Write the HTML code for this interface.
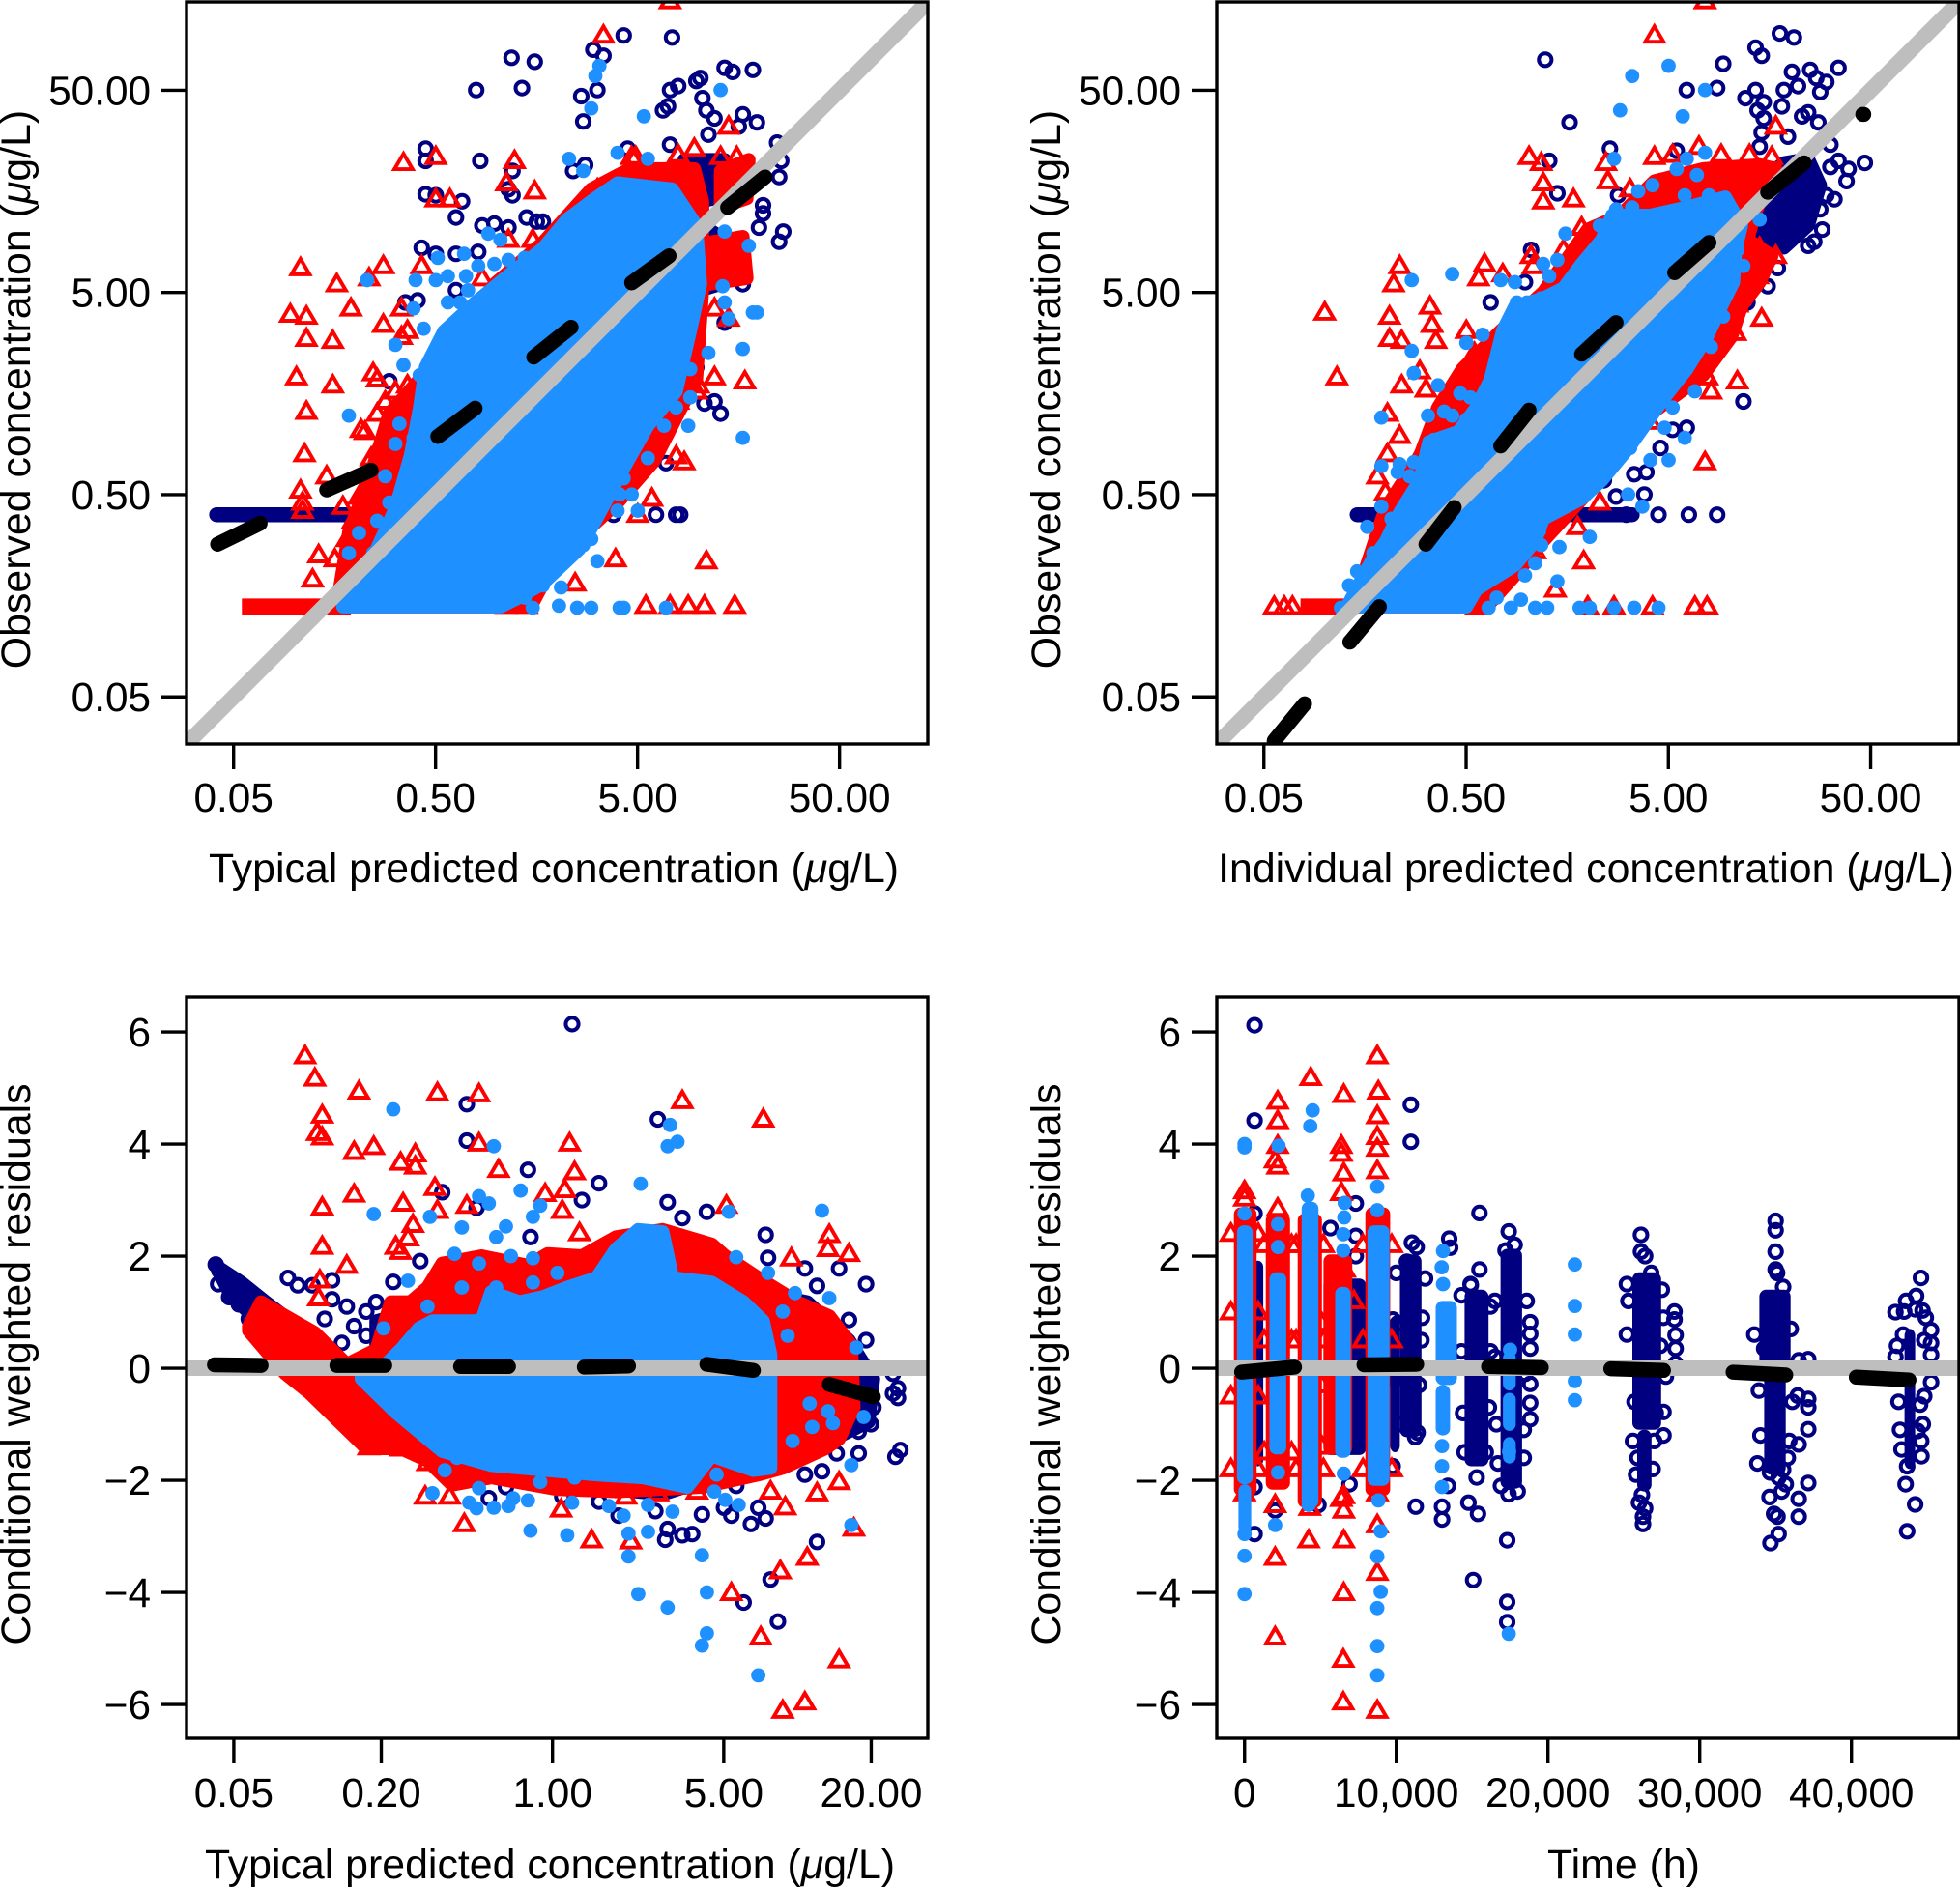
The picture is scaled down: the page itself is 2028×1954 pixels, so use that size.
<!DOCTYPE html>
<html lang="en">
<head>
<meta charset="utf-8">
<title>Goodness-of-fit diagnostic plots</title>
<style>
  html, body { margin: 0; padding: 0; background: #fff; }
  svg { display: block; }
  text { font-family: "Liberation Sans", "DejaVu Sans", sans-serif; font-size: 42.3px; fill: #000; }
  text.axis-title { font-size: 42.85px; }
</style>
</head>
<body>
<svg id="chart" xmlns="http://www.w3.org/2000/svg" width="2028" height="1954" viewBox="0 0 2028 1954">
  <rect x="0" y="0" width="2028" height="1954" fill="#fff"></rect>
</svg>
<script>
/* Shared tick values and labels */
const concTickValues = [0.05, 0.5, 5, 50];
const concTickLabels = ['0.05', '0.50', '5.00', '50.00'];
const p3XTickValues = [0.05, 0.2, 1, 5, 20];
const p3XTickLabels = ['0.05', '0.20', '1.00', '5.00', '20.00'];
const cwresTickValues = [-6, -4, -2, 0, 2, 4, 6];
const cwresTickLabels = ['\u22126', '\u22124', '\u22122', '0', '2', '4', '6'];
const timeTickValues = [0, 10, 20, 30, 40];
const timeTickLabels = ['0', '10,000', '20,000', '30,000', '40,000'];

/* Panel 1: log10 typical prediction vs log10 observed */
const p1NavyX = [-.10,.075,.19,.127,.48,.53,.63,.87,.42,.50,.43,.825,.85,.86,.90,.99,1.01,1.02,1.04,1.08,1.05,1.13,1.17,1.27,1.22,1.29,1.2,1.39,1.41,1.40,1.42,1.40,1.32,1.30,1.32,1.22,1.13,1.08,1.11,1.03,.99,.91,.89,.79,.84,.74,.82,.58,.52,.50,.50,-.35,-.35,-.35,-.30,-.17,-.20,-.08,-.07,-.01,.06,.15,.20,.23,-.37,-.30,-.20,-.09,-.20,-.45,-.39,-.53,.08,.08,.06,.44,.38,.65,.86];
const p1NavyY = [1.70,1.86,1.84,1.71,1.90,1.87,1.97,1.96,1.67,1.70,1.545,1.60,1.62,1.70,1.72,1.745,1.76,1.66,1.60,1.56,1.48,1.81,1.79,1.80,1.58,1.54,1.52,1.44,1.35,1.27,1.0,.95,1.13,1.02,1.09,.74,.55,.16,.10,.15,.33,-.40,-.40,-.40,-.145,-.09,-.02,-.40,-.30,-.31,-.40,1.41,1.35,1.185,1.18,1.15,1.07,1.35,1.03,1.04,1.02,1.07,1.05,1.05,.92,.89,.89,.90,.71,.65,.66,.26,1.18,1.30,1.21,1.33,1.30,1.41,1.43];
const p1NavyCloudX = [.93,1.13,1.145,1.02,1.02,1.11,1.11,1.01];
const p1NavyCloudY = [1.355,1.355,1.18,1.15,1.03,.975,.74,.71];
const p1NavyBandX = [-1.385, -.50];
const p1NavyBandY = [-.40, -.40];
const p1RedX = [.53,.86,-.46,-.30,.09,.05,-.30,-.23,.19,-.97,-.79,-.56,-.63,-.37,-1.02,-.94,-.72,-.94,-.81,-.56,-.47,-.99,-.81,-.94,-.95,-.84,-.97,-.96,-.96,-.88,-.80,-.91,-.61,-.67,-.62,-.76,1.15,.98,1.23,1.08,1.15,.89,.93,.77,.70,.59,1.04,.39,.05,.15,.74,.86,.95,1.03,1.18,1.00,.06,.18,.50,.67,-.65,-.59,-.55,-.50,-.44,-.62,-.68,-.71,-.74,-.65,-.59,-.47,-.44,-.47,-.59,-.23,-.01,-.07,.14,.29,.66,.69,.90,1.11,1.19,1.05,1.11,1.16,1.08,.99,.90];
const p1RedY = [1.97,2.14,1.34,1.37,1.35,1.24,1.16,1.16,1.20,.82,.74,.83,.77,.83,.59,.58,.62,.47,.46,.54,.62,.28,.24,.11,-.10,-.21,-.28,-.34,-.38,-.60,-.62,-.72,.30,.02,-.12,-.36,1.52,1.41,.26,.28,.57,-.11,-.14,-.32,-.40,-.62,-.63,-.74,-.85,-.85,-.85,-.85,-.85,-.85,-.85,.24,.96,.96,1.21,1.37,.01,.10,.16,.21,.24,-.28,-.31,-.43,-.52,-.40,-.08,.10,.51,.48,.27,.51,.62,.77,.83,.86,1.30,1.37,1.38,1.37,1.37,.86,.80,.89,.62,.21,.16];
const p1RedCloudX = [-.79,-.73,-.62,-.53,-.38,-.23,-.01,.23,.47,.66,.98,1.02,1.02,.99,.90,.78,.60,.44,.29,.17];
const p1RedCloudY = [-.855,-.487,-.195,.10,.27,.42,.74,.945,1.21,1.31,1.31,1.15,.71,.27,.10,-.136,-.34,-.487,-.63,-.855];
const p1RedPatchAX = [1.05,1.22,1.24,1.05];
const p1RedPatchAY = [.945,.975,.77,.74];
const p1RedPatchBX = [1.11,1.25,1.24,1.11];
const p1RedPatchBY = [1.30,1.355,1.165,1.12];
const p1RedBandX = [-1.26, -.72];
const p1RedBandY = [-.855, -.855];
const p1BlueX = [.49,.51,.47,.73,1.11,.36,.43,.60,.75,-.64,-.40,-.29,-.30,-.24,-.16,-.15,-.04,.02,-.09,-.01,.06,.14,-.14,-.24,-.18,-.41,-.50,-.36,-.26,-.15,-.46,-.38,-.30,-.23,-.29,-.09,-.01,-.73,-.48,-.41,-.50,-.35,-.26,-.18,-.15,-.32,-.07,-.55,-.44,-.53,-.59,-.68,-.73,-.61,1.27,1.29,1.22,1.22,1.13,1.12,1.15,1.25,1.13,.98,1.05,.96,.96,.95,.89,.83,.75,.70,.60,.67,.61,.50,.63,.58,.69,.60,.47,.43,.23,.26,.22,.12,.23,.32,.14,.31,.40,.47,.61,.63,.84,.18];
const p1BlueY = [1.77,1.82,1.61,1.57,1.70,1.36,1.30,1.39,1.36,.76,.76,.87,.76,.78,.89,.78,.99,.96,.83,.84,.86,.87,.71,.65,.65,.62,.44,.52,.46,.51,.34,.29,.39,.36,.30,.45,.42,.09,.05,-.02,-.05,.14,.16,.21,.10,.21,.27,-.21,-.25,-.34,-.43,-.49,-.59,-.59,.60,.60,.42,-.02,.65,.73,.57,.93,1.00,1.04,.40,.32,.18,.04,.13,.04,-.12,-.38,-.38,-.30,-.30,-.63,-.22,-.19,-.02,-.02,-.52,-.55,-.60,-.60,-.68,-.74,-.75,-.76,-.81,-.85,-.86,-.86,-.86,-.86,-.86,-.86];
const p1BlueCloudX = [-.76,-.62,-.50,-.425,-.38,-.35,-.26,-.10,.08,.23,.35,.47,.60,.87,.99,1.01,.96,.89,.75,.63,.49,.41,.23,.11,.02];
const p1BlueCloudY = [-.855,-.63,-.37,-.107,.127,.33,.507,.653,.80,.916,1.06,1.15,1.24,1.21,1.03,.74,.51,.21,.04,-.17,-.43,-.57,-.74,-.81,-.855];
const p1TrendX = [-1.38,-1.17,-.84,-.62,-.29,-.105,.185,.37,.67,.855,1.145,1.33];
const p1TrendY = [-.546,-.443,-.277,-.18,-.013,.127,.38,.527,.747,.88,1.12,1.27];

/* Panel 2: log10 individual prediction vs log10 observed */
const p2NavyX = [.09,.21,.79,.94,.97,1.13,1.16,1.25,1.32,1.31,1.40,1.43,1.48,1.54,1.45,1.34,1.27,1.13,1.08,1.17,1.14,1.26,1.17,1.36,1.39,1.44,1.16,1.29,1.15,1.50,1.54,1.67,1.59,1.58,1.50,1.48,1.52,1.45,1.46,1.39,1.42,1.38,1.24,1.19,1.09,1.07,.11,.41,.15,.74,.45,-.01,-.18,.02,.79,.72,.66,.59,.53,.58,.44,.38,.49,.65,.80,.94,.95];
const p2NavyY = [1.85,1.54,1.70,1.71,1.83,1.91,1.87,1.98,1.96,1.79,1.80,1.76,1.74,1.81,1.69,1.72,1.70,1.70,1.66,1.64,1.60,1.62,1.56,1.57,1.59,1.54,1.49,1.47,1.42,1.43,1.35,1.34,1.31,1.25,1.32,1.18,1.16,1.11,1.01,.93,.95,1.05,.82,.73,.65,.16,1.35,1.41,1.19,1.40,1.18,.75,.65,.91,.03,.02,-.07,-.19,-.20,-.30,-.31,-.23,-.40,-.40,-.40,-.40,.51];
const p2NavyCloudX = [1.08,1.27,1.39,1.45,1.39,1.27,1.15];
const p2NavyCloudY = [1.20,1.34,1.36,1.23,1.03,.92,.98];
const p2NavyBandX = [-.84, .52];
const p2NavyBandY = [-.40, -.40];
const p2RedX = [.88,.63,1.23,.01,.07,.39,.63,.72,.85,.96,1.10,1.21,.08,.08,.23,.40,.51,.27,.28,.02,.18,-.63,-.66,-.21,-.24,-.12,.03,.10,-1.0,-.68,-.48,-.47,-.45,-.68,-.62,-.30,-.94,-.62,-.53,-.50,-.26,-.69,-.63,-.69,-.74,-.70,-.51,.88,1.04,1.16,1.03,1.04,.89,.91,1.14,1.23,1.15,.61,.36,.25,.28,.04,.14,-1.25,-1.20,-1.16,.30,.43,.62,.83,.89,-.11,-.25];
const p2RedY = [2.14,1.97,1.52,1.37,1.34,1.34,1.37,1.38,1.42,1.38,1.38,1.37,1.24,1.15,1.16,1.25,1.21,1.02,.92,.88,.91,.83,.74,.84,.77,.79,.83,.73,.60,.58,.63,.54,.46,.47,.46,.51,.28,.24,.31,.22,.40,.10,-.01,-.10,-.21,-.29,-.07,-.14,.26,.57,.50,.64,.28,.21,.78,.88,.92,.06,-.34,-.46,-.63,-.58,-.77,-.855,-.855,-.855,-.855,-.855,-.855,-.855,-.855,-.62,-.855];
const p2RedCloudX = [-.53,-.44,-.32,-.13,.08,.30,.46,.63,.87,1.15,1.23,1.13,1.09,1.21,1.15,1.06,1.01,.87,.56,.32,.08,-.06,-.20,-.86,-.70];
const p2RedCloudY = [-.11,.13,.32,.51,.70,1.01,1.08,1.25,1.31,1.33,1.31,1.10,.96,.88,.75,.63,.48,.29,.06,-.27,-.53,-.70,-.855,-.855,-.37];
const p2RedBandX = [-1.12, -.84];
const p2RedBandY = [-.855, -.855];
const p2BlueX = [.52,.70,.88,.46,.77,.43,.79,.88,.74,.84,.62,.55,.78,.90,.19,.36,.44,.52,-.57,-.37,-.13,-.06,.08,.15,.11,-.05,.07,0,-.57,-.30,-.22,-.03,-.56,-.44,-.33,-.28,-.72,-.49,-.41,-.37,-.30,-.46,-.72,-.63,-.56,-.64,-.58,-.60,-.72,-.67,-.79,-.76,-.84,-.88,-.92,1.15,1.04,1.07,.97,.91,.83,.72,.55,.68,.78,.51,.61,.70,.50,.57,.31,.16,.06,.07,-.01,.04,.15,-.15,-.03,.26,.31,.43,.53,.65,.10,.04,-.08,-.19,-.13];
const p2BlueY = [1.77,1.82,1.70,1.60,1.57,1.36,1.36,1.39,1.31,1.28,1.23,1.20,1.18,1.18,.99,1.03,1.11,1.12,.76,.79,.76,.75,.84,.86,.78,.65,.67,.65,.41,.45,.49,.44,.30,.24,.20,.18,.08,.09,.11,.09,.07,-.03,-.16,-.15,-.14,-.19,-.21,-.36,-.36,-.42,-.46,-.59,-.68,-.75,-.86,1.06,.91,.83,.58,.43,.21,.13,.07,.03,-.02,-.07,-.13,-.13,-.30,-.36,-.51,-.56,-.48,-.55,-.70,-.64,-.73,-.81,-.82,-.86,-.86,-.86,-.86,-.86,-.86,-.86,-.86,-.86,-.68];
const p2BlueCloudX = [-.89,-.77,-.70,-.63,-.53,-.485,-.34,-.25,-.18,-.12,-.06,.08,.18,.27,.37,.42,.61,.79,.98,1.06,1.03,1.02,.96,.89,.79,.68,.51,.37,.27,.08,.04,-.06,-.25,-.30];
const p2BlueCloudY = [-.855,-.63,-.535,-.39,-.23,-.04,.01,.13,.27,.51,.63,.67,.72,.84,.96,1.08,1.08,1.12,1.17,1.03,.91,.75,.63,.48,.32,.18,-.06,-.23,-.32,-.42,-.53,-.65,-.77,-.855];
const p2TrendX = [-1.25,-1.10,-.876,-.73,-.50,-.36,-.13,.01,.27,.44,.73,.90,1.19,1.37,1.66,1.665];
const p2TrendY = [-1.518,-1.335,-1.03,-.855,-.546,-.364,-.06,.117,.394,.55,.797,.946,1.195,1.34,1.58,1.58];

/* Panel 3: log10 typical prediction vs conditional weighted residual */
const p3NavyX = [.08,-.35,-.35,.43,-.10,.19,.12,.47,.53,.63,.87,.88,1.17,1.28,1.08,-.54,-.65,-.90,-.45,-.31,-.09,1.28,1.21,1.03,1.39,1.41,1.39,1.41,1.31,1.30,1.25,1.16,1.25,1.42,1.40,1.10,1.03,.75,.61,.70,.73,.84,.87,.81,1.08,.89,.78,.92,.57,.53,.46,.47,.42,.27,.19,.04,-.19,-.26,-.44,-.28,-1.375,-1.36,-1.365,-1.32,-1.28,-1.24,-1.08,-1.04,-.98,-.90,-.84,-.81,-.76,-.93,-.76,-.72,-.65,-.86];
const p3NavyY = [6.14,4.71,4.06,4.44,3.54,3.30,3.0,2.96,2.68,2.79,2.38,1.97,1.78,1.50,1.47,1.91,1.54,1.57,3.14,2.86,2.34,.50,.86,1.78,-.10,-.36,-.45,-.53,-.70,-1.0,-1.13,-1.52,-1.52,-1.46,-1.58,-1.84,-1.90,-2.10,-2.61,-2.49,-2.63,-2.49,-2.68,-2.78,-3.10,-3.77,-4.18,-4.52,-2.96,-2.98,-3.06,-2.87,-2.55,-2.63,-2.38,-2.29,-2.12,-2.32,-1.86,-1.78,1.85,1.74,1.50,1.27,1.14,.88,1.61,1.48,1.48,1.23,1.10,.75,.58,.88,1.01,1.18,1.10,.45];
const p3NavyTailX = [-1.375,-1.27,-1.17,-.86,-1.11,-1.31];
const p3NavyTailY = [1.83,1.53,1.18,.15,.50,1.27];
const p3NavyCloudX = [.84,1.04,1.21,1.31,1.29,1.13,.94,.45,.06,-.43,-.72,-.72,-.13];
const p3NavyCloudY = [1.36,1.18,.50,-.19,-.96,-1.30,-1.56,-2.25,-2.08,-1.82,-.19,.84,1.53];
const p3RedX = [-1.01,-.97,-.79,-.47,-.30,.53,.86,-.94,-.96,-.94,-.81,-.73,-.62,-.56,-.56,-.30,-.22,.07,.09,-.81,-.94,-.61,-.48,.05,-.03,.04,.71,-.94,-.84,-.57,-.59,-.64,-.62,-.47,-.35,.11,1.13,1.125,1.21,.975,-.95,-.955,1.17,1.08,1.23,.95,.89,1.04,.93,.73,.85,1.17,1.03,.94,-.36,-.52,-.42,-.51,.035,.16,.32,.30,.43,.59,-.62,-.75,.045];
const p3RedY = [5.57,5.17,4.94,4.91,4.89,4.77,4.44,4.51,4.20,4.12,3.86,3.95,3.67,3.82,3.60,4.01,3.54,4.01,3.50,3.10,2.87,2.94,3.22,3.18,3.11,2.81,2.90,2.17,1.83,2.56,2.32,2.17,2.08,2.81,2.90,2.41,2.38,2.13,2.04,1.96,1.57,1.25,-2.03,-2.23,-2.86,-2.48,-2.20,-3.38,-3.62,-4.01,-4.80,-5.21,-5.96,-6.11,-2.78,-2.29,-2.29,-1.69,-2.52,-3.07,-3.09,-2.29,-2.23,-2.20,-1.43,-1.41,-2.03];
const p3RedCloudX = [-1.24,-1.19,-1.09,-.97,-.84,-.72,-.66,-.58,-.51,-.45,-.29,-.10,-.02,.12,.26,.45,.65,.705,.84,1.0,1.13,1.22,1.23,1.17,1.115,.94,.84,.61,.26,.02,-.25,-.41,-.51,-.62,-.76,-.88,-.99,-1.09,-1.24];
const p3RedCloudY = [.75,1.18,.93,.63,.07,.33,1.18,1.18,1.44,1.87,2.0,1.83,2.04,2.0,2.34,2.47,2.21,2.0,1.61,1.18,.93,.41,-.70,-1.26,-1.43,-1.78,-1.90,-2.12,-2.20,-2.16,-1.95,-2.08,-1.65,-1.43,-1.43,-.92,-.45,-.10,.67];
const p3BlueX = [-.65,-.73,-.24,-.30,-.26,-.50,-.13,-.05,-.08,-.19,.36,.48,.47,.51,.72,1.10,.75,.88,.99,1.13,.94,1.24,.96,-.59,-.69,-.37,-.23,-.40,-.30,-.37,-.51,-.47,-.31,-.23,-.17,-.08,.02,-.08,1.05,1.125,1.145,1.27,1.06,1.22,1.22,.98,-.49,-.44,-.39,-.30,-.34,-.31,-.24,-.18,-.16,-.10,-.09,.06,-.05,.09,.08,.23,.29,.31,.31,.39,.39,.49,.61,.66,.705,.76,.67,.35,.63,.47,.63,.61,.84,.26,.53,.60,.84,-.25];
const p3BlueY = [4.62,2.75,3.96,3.07,2.94,2.70,3.17,2.90,2.70,2.53,3.29,4.34,3.96,4.04,2.79,2.81,1.98,1.70,1.34,1.25,1.01,.37,.58,1.56,.71,2.51,2.34,2.04,1.87,1.44,1.10,.75,.84,1.44,2.0,1.96,1.70,1.53,-.63,-.77,-.98,-.87,-1.05,-1.73,-2.80,-1.30,-2.23,-1.82,-1.60,-2.14,-2.40,-2.50,-2.49,-2.46,-2.32,-2.36,-2.90,-2.98,-2.03,-1.95,-2.40,-2.46,-2.63,-2.95,-3.36,-2.44,-2.92,-2.56,-3.34,-2.20,-2.35,-2.44,-1.90,-4.03,-4.0,-4.27,-4.73,-4.95,-5.48,-1.90,-1.90,-1.82,-1.73,-1.65];
const p3BlueCloudX = [-.78,-.68,-.62,-.545,-.49,-.29,-.25,-.135,-.04,.06,.18,.26,.35,.45,.49,.65,.78,.86,.89,.89,.89,.82,.65,.55,.37,.18,-.02,-.25,-.45,-.64,-.78];
const p3BlueCloudY = [-.10,.07,.33,.71,.84,.84,1.36,1.18,1.27,1.44,1.61,2.13,2.47,2.43,1.61,1.53,1.18,.84,.24,-1.05,-1.78,-1.82,-1.56,-2.12,-1.95,-1.90,-1.82,-1.73,-1.48,-.79,-.19];
const p3TrendX = [-1.38,-1.19,-.88,-.685,-.375,-.18,.13,.31,.63,.82,1.13,1.31];
const p3TrendY = [.06,.05,.05,.05,.03,.03,.02,.04,.07,-.04,-.29,-.51];

/* Panel 4: time in thousands of hours vs conditional weighted residual */
const p4NavyX = [.66,.66,10.96,10.96,.66,5.66,7.33,7.33,7.33,11.03,11.34,13.49,13.55,15.48,15.48,14.91,17.41,26.13,26.13,35.0,35.0,35.0,35.0,44.58,44.26,43.47,44.68,45.25,45.25,45.25,45.25,44.52,44.36,44.61,44.2,43.67,43.57,43.67,28.34,28.34,28.41,28.41,28.41,27.77,27.61,27.61,18.83,18.83,18.83,18.83,18.83,18.83,11.66,9.76,9.76,11.25,11.28,13.02,13.02,13.4,14.76,15.39,15.07,17.31,17.31,17.31,26.26,26.26,26.19,34.66,35.2,35.13,36.52,36.52,37.15,36.52,37.15,37.15,36.46,37.15,36.52,37.15,.66,.66,2.02,4.87,6.92,35.67,35.5,34.63,35.5,34.25,42.9,43.4,44.8,42.9,43.1,44.8,43.2,44.7,43.3,44.6,43.0,44.9,44.2,43.6,33.6,36.0,33.9,36.1,34.0,35.9,33.8,35.8,34.6,35.4,34.9,35.2,35.1,25.2,25.3,25.2,27.5,27.6,27.4,25.7,27.1,25.6,27.0,25.9,26.9,26.0,26.4,25.8,26.4,26.8,16.5,18.6,16.5,18.5,16.6,18.4,16.7,18.4,16.9,18.0,17.4,17.8,17.2,14.3,16.2,14.3,16.2,14.4,16.1,14.5,15.9,15.3,15.4,14.9,10.0,11.9,10.1,11.7,9.9,11.5,10.2,11.4,10.7];
const p4NavyY = [6.12,4.42,4.70,4.04,2.76,2.5,2.94,2.36,2.0,2.24,2.16,2.31,2.15,2.77,1.76,1.48,2.44,2.38,2.08,2.63,2.46,2.08,1.76,1.61,1.29,1.01,1.03,.68,.45,.24,-.25,-.65,-1.12,-1.57,-2.43,-2.91,-2.07,-1.75,1.01,.87,.59,.35,.08,-.15,-.78,-1.2,.82,.61,.35,-.28,-.62,-.91,.50,.87,-1.75,-1.23,-2.47,-2.47,-2.70,-2.10,-2.40,-2.60,-3.78,-3.07,-4.17,-4.53,-2.65,-2.78,-2.26,-3.12,-2.96,-2.65,-2.33,-2.65,-2.05,-1.36,-1.09,-.70,-.49,-.55,.14,.16,-2.96,-2.12,-2.54,-2.44,-2.07,-2.07,-1.81,-1.86,1.45,.35,1.0,.6,.5,.2,-.6,-.5,-1.1,-1.0,-1.45,-1.3,.4,.9,1.05,1.2,.6,.7,-.4,-.6,-1.2,-1.3,-1.7,-1.6,-2.3,-2.2,-2.6,-1.95,1.7,1.5,1.2,.6,1.4,.9,.4,-.6,-.8,-1.3,-1.3,-1.6,-1.8,-2.4,-2.5,-1.9,2.0,1.7,1.2,1.2,.2,-.1,-1,-1.1,-1.7,-1.6,-2.1,-2.2,-2.25,2.2,2.1,1.3,1.1,.3,.3,-.8,-.7,-1.5,-1.5,-1.95,-1.6,1.5,1.7,1.6,.8,.9,-.2,-.3,-1.0,-1.15,1.9];
const p4NavyBandStart = [.5,5.2,10.24,9.6,14.5,16.87,25.56,25.88,33.93,34.25,43.5];
const p4NavyBandEnd = [1.23,8.0,11.66,10.24,16.08,18.29,27.46,26.82,35.99,35.67,44.2];
const p4NavyBandHigh = [1.92,1.6,2.03,.9,1.4,2.13,1.71,-1.1,1.4,0,.7];
const p4NavyBandLow = [-1.75,-1.55,-1.23,-1.5,-1.75,-2.15,-1.1,-2.2,0,-1.9,-1.8];
const p4RedX = [8.75,4.36,8.82,6.54,2.18,2.18,8.75,8.75,8.75,6.38,6.38,2.18,2.02,2.18,6.54,8.75,0,0,6.38,2.18,6.6,0,2.02,4.3,6.54,6.38,6.54,8.75,4.23,6.54,2.02,8.75,8.75,6.54,2.02,6.51,6.51,8.75,-.9,.9,-.9,.9,-.9,.9,-.9,.9,1.3,3.1,1.3,3.1,1.3,3.1,3.4,5.2,3.4,5.2,3.4,5.2,5.1,5.1,5.1,7.2,7.8,9.7,7.8,9.7,7.8,9.7];
const p4RedY = [5.57,5.18,4.94,4.88,4.76,4.41,4.5,4.13,3.92,3.97,3.83,3.97,3.71,3.6,3.48,3.52,3.16,3.03,3.13,2.85,1.76,-2.23,-2.44,-2.49,-2.28,-2.33,-2.54,-2.23,-3.07,-3.07,-3.38,-2.8,-3.65,-4.01,-4.8,-5.2,-5.96,-6.11,2.4,2.4,1,1,-.5,-.5,-1.8,-1.8,2.2,2.2,.5,.5,-1.5,-1.5,2.2,2.2,.5,.5,-1.8,-1.8,.8,-.3,-1.4,1.2,2.2,2.2,.5,.5,-1.8,-1.8];
const p4RedBandStart = [-.7,1.4,3.5,5.2,7.96];
const p4RedBandEnd = [.8,3.0,5.1,7.1,9.6];
const p4RedBandHigh = [2.87,2.76,2.76,2.03,2.87];
const p4RedBandLow = [-2.28,-2.17,-2.49,-1.54,-2.28];
const p4BlueX = [0,0,2.24,4.49,4.33,4.17,6.6,6.57,6.51,6.51,8.75,8.75,2.21,2.21,0,13.08,12.99,13.08,21.77,21.77,21.77,21.77,21.77,17.5,0,0,0,2.02,2.21,4.23,6.54,8.82,8.97,8.75,8.97,8.75,8.75,8.75,17.41,13.02,13.02,13.02,17.44,2.97];
const p4BlueY = [4.0,3.94,3.97,4.6,4.32,3.08,2.95,2.69,2.39,2.1,3.24,2.82,2.57,2.16,2.76,2.09,1.8,1.5,1.85,1.11,.6,-.23,-.57,.33,-2.96,-3.35,-4.03,-2.8,-1.86,-2.44,-1.88,-2.36,-2.91,-3.36,-3.99,-4.28,-4.96,-5.48,-4.74,-1.75,-2.12,-1.39,-1.49,.03];
const p4BlueBandStart = [-.5,-.4,1.64,3.76,5.97,8.1,12.6,12.6,17.03,17.03,17.03];
const p4BlueBandEnd = [.54,.44,2.75,4.87,7.0,9.55,14.0,13.55,17.88,17.88,17.88];
const p4BlueBandHigh = [2.55,-2.07,1.71,2.97,1.45,2.55,1.2,-.3,.3,-.44,-1.23];
const p4BlueBandLow = [-2.07,-2.95,-1.54,-2.49,-1.6,-2.1,-.3,-1.2,-.4,-1.12,-1.7];
const p4TrendX = [-.19,3.29,7.87,11.34,16.08,19.56,24.14,27.61,32.2,35.67,40.32,43.79];
const p4TrendY = [-.07,.02,.06,.07,.03,.01,-.01,-.04,-.07,-.12,-.16,-.21];

/* Drawing */
const SVGNS = 'http://www.w3.org/2000/svg';
const root = document.getElementById('chart');
const NAVY = '#000080', RED = '#FF0000', BLUE = '#1E90FF', GREY = '#BEBEBE';
const LINE_W = 3.4;

function make(tag, parent, attrs) {
  const node = document.createElementNS(SVGNS, tag);
  for (const k in attrs) node.setAttribute(k, attrs[k]);
  parent.appendChild(node);
  return node;
}
function linear(d0, d1, r0, r1) {
  return function (v) { return r0 + (v - d0) * (r1 - r0) / (d1 - d0); };
}
function drawCircles(g, xs, ys, sx, sy, filled) {
  xs.forEach(function (xv, i) {
    const c = make('circle', g, {
      cx: sx(xv).toFixed(1), cy: sy(ys[i]).toFixed(1), r: filled ? 7.4 : 6.6,
      fill: filled ? BLUE : 'none', stroke: filled ? 'none' : NAVY, 'stroke-width': filled ? 0 : 4
    });
    
    
  });
}
function drawTriangles(g, xs, ys, sx, sy) {
  xs.forEach(function (xv, i) {
    const px = sx(xv), py = sy(ys[i]);
    const t = make('polygon', g, {
      points: px.toFixed(1) + ',' + (py - 9.5).toFixed(1) + ' ' + (px + 9.4).toFixed(1) + ',' + (py + 6.5).toFixed(1) + ' ' + (px - 9.4).toFixed(1) + ',' + (py + 6.5).toFixed(1),
      fill: 'none', stroke: RED, 'stroke-width': 3.9
    });
    
    
  });
}
function drawCloud(g, xs, ys, sx, sy, color, name) {
  const pts = xs.map(function (xv, i) { return sx(xv).toFixed(1) + ',' + sy(ys[i]).toFixed(1); }).join(' ');
  const p = make('polygon', g, { points: pts, fill: color, stroke: color, 'stroke-width': 14, 'stroke-linejoin': 'round' });
  
  
}
function drawBandLine(g, xs, ys, sx, sy, color, cap, name) {
  const l = make('line', g, {
    x1: sx(xs[0]), y1: sy(ys[0]), x2: sx(xs[1]), y2: sy(ys[1]),
    stroke: color, 'stroke-width': cap === 'round' ? 15.5 : 17, 'stroke-linecap': cap
  });
  
  
}
function drawBars(g, starts, ends, highs, lows, sx, sy, color, name) {
  starts.forEach(function (s, i) {
    const x0 = sx(s), x1 = sx(ends[i]), y0 = sy(highs[i]), y1 = sy(lows[i]);
    const r = make('rect', g, {
      x: x0.toFixed(1), y: y0.toFixed(1), width: (x1 - x0).toFixed(1), height: (y1 - y0).toFixed(1),
      rx: 7, ry: 7, fill: color
    });
    
    
  });
}
function drawTrend(g, xs, ys, sx, sy) {
  let d = '';
  for (let i = 0; i + 1 < xs.length; i += 2) {
    d += 'M' + sx(xs[i]).toFixed(1) + ' ' + sy(ys[i]).toFixed(1) + 'L' + sx(xs[i + 1]).toFixed(1) + ' ' + sy(ys[i + 1]).toFixed(1);
  }
  const p = make('path', g, { d: d, fill: 'none', stroke: '#000', 'stroke-width': 15.5, 'stroke-linecap': 'round' });
  
  
}
function drawReference(g, x0, y0, x1, y1) {
  const l = make('line', g, { x1: x0, y1: y0, x2: x1, y2: y1, stroke: GREY, 'stroke-width': 16 });
  
  
}
function drawFrame(panel, box, xTicks, xLabels, sx, yTicks, yLabels, sy, baseX, baseY) {
  const frame = make('rect', panel, {
    x: box.l, y: box.t, width: box.r - box.l, height: box.b - box.t, fill: 'none', stroke: '#000', 'stroke-width': LINE_W
  });
  
  
  xTicks.forEach(function (v, i) {
    const px = sx(v);
    const t = make('line', panel, { x1: px, x2: px, y1: box.b, y2: box.b + 26, stroke: '#000', 'stroke-width': LINE_W });
    
    
    const lab = make('text', panel, { x: px, y: baseX, 'text-anchor': 'middle' });
    lab.textContent = xLabels[i];
    
    
  });
  yTicks.forEach(function (v, i) {
    const py = sy(v);
    const t = make('line', panel, { x1: box.l - 26, x2: box.l, y1: py, y2: py, stroke: '#000', 'stroke-width': LINE_W });
    
    
    const lab = make('text', panel, { x: baseY, y: py + 15, 'text-anchor': 'end' });
    lab.textContent = yLabels[i];
    
    
  });
}
function addTitle(panel, text, hasUnit, x, y, rotate, name) {
  const t = make('text', panel, { x: x, y: y, 'text-anchor': 'middle', 'class': 'axis-title' });
  if (rotate) t.setAttribute('transform', 'rotate(-90 ' + x + ' ' + y + ')');
  
  
  t.appendChild(document.createTextNode(text));
  if (hasUnit) {
    t.appendChild(document.createTextNode(' ('));
    const mu = make('tspan', t, { 'font-style': 'italic' });
    mu.textContent = '\u03BC';
    t.appendChild(document.createTextNode('g/L)'));
  }
}
function newPanel(name, box, clipId) {
  const panel = make('g', root, {});
  
  
  const cp = make('clipPath', panel, { id: clipId });
  make('rect', cp, { x: box.l, y: box.t, width: box.r - box.l, height: box.b - box.t });
  const marks = make('g', panel, { 'clip-path': 'url(#' + clipId + ')' });
  
  
  return { panel: panel, marks: marks };
}
const logTicks = function (arr) { return arr.map(function (v) { return Math.log10(v); }); };

/* Panel 1 */
(function () {
  const box = { l: 193, r: 960, t: 2, b: 770 };
  const sx = linear(-1.534, 2.136, box.l, box.r);
  const sy = linear(-1.534, 2.136, box.b, box.t);
  const p = newPanel('panel-observed-vs-typical', box, 'clip-p1');
  drawCloud(p.marks, p1NavyCloudX, p1NavyCloudY, sx, sy, NAVY, 'navy-dense-cloud');
  drawBandLine(p.marks, p1NavyBandX, p1NavyBandY, sx, sy, NAVY, 'round', 'navy-censored-band');
  drawCircles(p.marks, p1NavyX, p1NavyY, sx, sy, false);
  drawCloud(p.marks, p1RedCloudX, p1RedCloudY, sx, sy, RED, 'red-dense-cloud');
  drawCloud(p.marks, p1RedPatchAX, p1RedPatchAY, sx, sy, RED, 'red-dense-patch');
  drawCloud(p.marks, p1RedPatchBX, p1RedPatchBY, sx, sy, RED, 'red-dense-patch');
  drawBandLine(p.marks, p1RedBandX, p1RedBandY, sx, sy, RED, 'butt', 'red-censored-band');
  drawTriangles(p.marks, p1RedX, p1RedY, sx, sy);
  drawCloud(p.marks, p1BlueCloudX, p1BlueCloudY, sx, sy, BLUE, 'blue-dense-cloud');
  drawCircles(p.marks, p1BlueX, p1BlueY, sx, sy, true);
  drawReference(p.marks, sx(-1.534), sy(-1.534), sx(2.136), sy(2.136));
  drawTrend(p.marks, p1TrendX, p1TrendY, sx, sy);
  drawFrame(p.panel, box, logTicks(concTickValues), concTickLabels, sx, logTicks(concTickValues), concTickLabels, sy, 840, 156);
  addTitle(p.panel, 'Typical predicted concentration', true, 573, 913, false, 'x-axis-title');
  addTitle(p.panel, 'Observed concentration', true, 31, 403, true, 'y-axis-title');
})();

/* Panel 2 */
(function () {
  const box = { l: 1259, r: 2027, t: 2, b: 770 };
  const sx = linear(-1.534, 2.136, box.l, box.r);
  const sy = linear(-1.534, 2.136, box.b, box.t);
  const p = newPanel('panel-observed-vs-individual', box, 'clip-p2');
  drawCloud(p.marks, p2NavyCloudX, p2NavyCloudY, sx, sy, NAVY, 'navy-dense-cloud');
  drawBandLine(p.marks, p2NavyBandX, p2NavyBandY, sx, sy, NAVY, 'round', 'navy-censored-band');
  drawCircles(p.marks, p2NavyX, p2NavyY, sx, sy, false);
  drawCloud(p.marks, p2RedCloudX, p2RedCloudY, sx, sy, RED, 'red-dense-cloud');
  drawBandLine(p.marks, p2RedBandX, p2RedBandY, sx, sy, RED, 'butt', 'red-censored-band');
  drawTriangles(p.marks, p2RedX, p2RedY, sx, sy);
  drawCloud(p.marks, p2BlueCloudX, p2BlueCloudY, sx, sy, BLUE, 'blue-dense-cloud');
  drawCircles(p.marks, p2BlueX, p2BlueY, sx, sy, true);
  drawReference(p.marks, sx(-1.534), sy(-1.534), sx(2.136), sy(2.136));
  drawTrend(p.marks, p2TrendX, p2TrendY, sx, sy);
  drawFrame(p.panel, box, logTicks(concTickValues), concTickLabels, sx, logTicks(concTickValues), concTickLabels, sy, 840, 1222);
  addTitle(p.panel, 'Individual predicted concentration', true, 1641, 913, false, 'x-axis-title');
  addTitle(p.panel, 'Observed concentration', true, 1097, 403, true, 'y-axis-title');
})();

/* Panel 3 */
(function () {
  const box = { l: 193, r: 960, t: 1032, b: 1799 };
  const sx = linear(-1.494, 1.532, box.l, box.r);
  const sy = linear(-6.603, 6.621, box.b, box.t);
  const p = newPanel('panel-residuals-vs-typical', box, 'clip-p3');
  drawCloud(p.marks, p3NavyTailX, p3NavyTailY, sx, sy, NAVY, 'navy-tail-cloud');
  drawCloud(p.marks, p3NavyCloudX, p3NavyCloudY, sx, sy, NAVY, 'navy-dense-cloud');
  drawCircles(p.marks, p3NavyX, p3NavyY, sx, sy, false);
  drawCloud(p.marks, p3RedCloudX, p3RedCloudY, sx, sy, RED, 'red-dense-cloud');
  drawTriangles(p.marks, p3RedX, p3RedY, sx, sy);
  drawCloud(p.marks, p3BlueCloudX, p3BlueCloudY, sx, sy, BLUE, 'blue-dense-cloud');
  drawCircles(p.marks, p3BlueX, p3BlueY, sx, sy, true);
  drawReference(p.marks, box.l, sy(0), box.r, sy(0));
  drawTrend(p.marks, p3TrendX, p3TrendY, sx, sy);
  drawFrame(p.panel, box, logTicks(p3XTickValues), p3XTickLabels, sx, cwresTickValues, cwresTickLabels, sy, 1870, 156);
  addTitle(p.panel, 'Typical predicted concentration', true, 569, 1944, false, 'x-axis-title');
  addTitle(p.panel, 'Conditional weighted residuals', false, 31, 1412, true, 'y-axis-title');
})();

/* Panel 4 */
(function () {
  const box = { l: 1259, r: 2027, t: 1032, b: 1799 };
  const sx = linear(-1.83, 47.09, box.l, box.r);
  const sy = linear(-6.603, 6.621, box.b, box.t);
  const p = newPanel('panel-residuals-vs-time', box, 'clip-p4');
  drawBars(p.marks, p4NavyBandStart, p4NavyBandEnd, p4NavyBandHigh, p4NavyBandLow, sx, sy, NAVY, 'navy-visit-column');
  drawCircles(p.marks, p4NavyX, p4NavyY, sx, sy, false);
  drawBars(p.marks, p4RedBandStart, p4RedBandEnd, p4RedBandHigh, p4RedBandLow, sx, sy, RED, 'red-visit-column');
  drawTriangles(p.marks, p4RedX, p4RedY, sx, sy);
  drawBars(p.marks, p4BlueBandStart, p4BlueBandEnd, p4BlueBandHigh, p4BlueBandLow, sx, sy, BLUE, 'blue-visit-column');
  drawCircles(p.marks, p4BlueX, p4BlueY, sx, sy, true);
  drawReference(p.marks, box.l, sy(0), box.r, sy(0));
  drawTrend(p.marks, p4TrendX, p4TrendY, sx, sy);
  drawFrame(p.panel, box, timeTickValues, timeTickLabels, sx, cwresTickValues, cwresTickLabels, sy, 1870, 1222);
  addTitle(p.panel, 'Time (h)', false, 1680, 1944, false, 'x-axis-title');
  addTitle(p.panel, 'Conditional weighted residuals', false, 1097, 1412, true, 'y-axis-title');
})();
</script>
</body>
</html>
